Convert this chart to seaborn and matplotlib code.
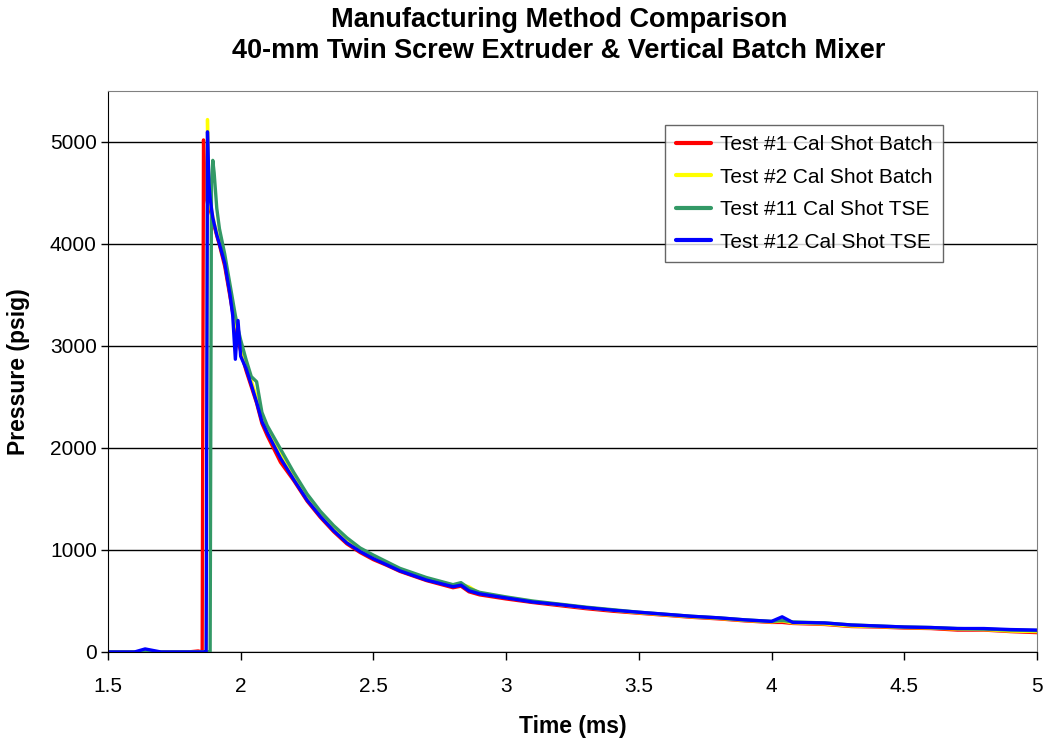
import seaborn as sns
import pandas as pd
import numpy as np
import matplotlib.pyplot as plt

#%% data

series_names = ["Test #1 Cal Shot Batch", "Test #2 Cal Shot Batch",
                "Test #11 Cal Shot TSE", "Test #12 Cal Shot TSE"]
palette = ["#FF0000", "#FFFF00", "#339966", "#0000FF"]

time_ms = [1.50, 1.60, 1.64, 1.70, 1.80, 1.84, 1.855, 1.86, 1.865, 1.87,
           1.875, 1.88, 1.885, 1.89, 1.895, 1.90, 1.91, 1.92, 1.94, 1.96,
           1.97, 1.98, 1.99, 2.00, 2.02, 2.04, 2.06, 2.08, 2.10, 2.15,
           2.20, 2.25, 2.30, 2.35, 2.40, 2.45, 2.50, 2.55, 2.60, 2.70,
           2.80, 2.83, 2.86, 2.90, 3.00, 3.10, 3.20, 3.30, 3.40, 3.50,
           3.60, 3.70, 3.80, 3.90, 4.00, 4.04, 4.08, 4.20, 4.30, 4.40,
           4.50, 4.60, 4.70, 4.80, 4.90, 5.00]

test1_batch = [0, 0, 0, 0, 0, 10, 0, 5020, 4600, 4450,
               4400, 4370, 4330, 4290, 4240, 4180, 4080, 3990, 3780, 3480,
               3330, 3190, 3060, 2950, 2760, 2600, 2440, 2240, 2120, 1860,
               1680, 1480, 1320, 1180, 1060, 975, 905, 850, 790, 700,
               630, 645, 590, 560, 520, 485, 455, 425, 400, 380,
               360, 340, 325, 305, 290, 290, 280, 270, 250, 245,
               235, 230, 215, 215, 200, 190]

test2_batch = [0, 0, 0, 0, 0, 0, 0, 0, 0, 0,
               5220, 4500, 4400, 4330, 4270, 4210, 4110, 4030, 3840, 3530,
               3400, 3250, 3120, 3010, 2820, 2660, 2490, 2300, 2170, 1950,
               1720, 1520, 1360, 1220, 1110, 1000, 935, 870, 810, 720,
               655, 660, 640, 575, 535, 495, 465, 435, 410, 385,
               365, 345, 330, 310, 295, 305, 285, 275, 255, 250,
               240, 235, 225, 220, 205, 200]

test11_tse = [0, 0, 0, 0, 0, 0, 0, 0, 0, 0,
              0, 0, 0, 4600, 4820, 4700, 4350, 4150, 3900, 3600,
              3450, 3300, 3170, 3060, 2870, 2700, 2650, 2350, 2220, 1990,
              1760, 1550, 1380, 1240, 1120, 1020, 950, 885, 820, 730,
              660, 680, 625, 585, 540, 500, 470, 440, 415, 390,
              370, 350, 335, 315, 300, 310, 295, 285, 265, 255,
              245, 240, 230, 225, 215, 210]

test12_tse = [0, 0, 30, 0, 0, 0, 0, 0, 0, 0,
              5100, 4600, 4450, 4350, 4260, 4200, 4090, 4000, 3810, 3500,
              3300, 2870, 3250, 2900, 2780, 2620, 2450, 2260, 2150, 1900,
              1690, 1490, 1330, 1190, 1070, 985, 915, 855, 795, 705,
              640, 655, 600, 570, 530, 490, 465, 435, 410, 390,
              370, 350, 335, 315, 300, 345, 290, 285, 265, 255,
              245, 240, 230, 230, 220, 215]

y_ticks = [0, 1000, 2000, 3000, 4000, 5000]
x_ticks = [1.5, 2, 2.5, 3, 3.5, 4, 4.5, 5]
x_ticklabels = ["1.5", "2", "2.5", "3", "3.5", "4", "4.5", "5"]

#%% long format

frames = []
for name, vals in zip(series_names, [test1_batch, test2_batch, test11_tse, test12_tse]):
    frames.append(pd.DataFrame({"Time": time_ms, "Pressure": vals, "Series": name}))
df = pd.concat(frames, ignore_index=True)

#%% plot

sns.set_style("ticks")
plt.rcParams['font.family'] = ['Liberation Sans', 'DejaVu Sans']
plt.rcParams['text.color'] = 'black'
plt.rcParams['axes.labelcolor'] = 'black'
plt.rcParams['xtick.color'] = 'black'
plt.rcParams['ytick.color'] = 'black'

fig = plt.figure(figsize=(10.45, 7.42), dpi=100)
ax = fig.add_axes([0.1033, 0.1213, 0.8890, 0.7561])

sns.lineplot(data=df, x="Time", y="Pressure", hue="Series", hue_order=series_names,
             palette=palette, estimator=None, sort=False, linewidth=2.4, ax=ax)

ax.set_xlim(1.5, 5)
ax.set_ylim(0, 5500)
ax.set_xticks(x_ticks)
ax.set_xticklabels(x_ticklabels)
ax.set_yticks(y_ticks)
ax.yaxis.grid(True, color="black", linewidth=1)
ax.set_axisbelow(True)
ax.tick_params(axis="x", labelsize=15, direction="out", length=6, width=1, pad=12)
ax.tick_params(axis="y", labelsize=15, direction="out", length=5, width=1, pad=3)

for side in ["left", "bottom"]:
    ax.spines[side].set_color("black")
for side in ["top", "right"]:
    ax.spines[side].set_color("#808080")

ax.set_xlabel("Time (ms)", fontsize=16.5, fontweight="bold")
ax.set_ylabel("Pressure (psig)", fontsize=16.5, fontweight="bold")
ax.xaxis.set_label_coords(0.5, -0.112)
ax.yaxis.set_label_coords(-0.084, 0.5)
fig.suptitle("Manufacturing Method Comparison\n40-mm Twin Screw Extruder & Vertical Batch Mixer",
             x=0.535, y=0.99, fontsize=19.5, fontweight="bold", linespacing=1.25)

handles, labels = ax.get_legend_handles_labels()
leg = ax.legend(handles, labels, loc="upper left", bbox_to_anchor=(0.6, 0.94),
                borderaxespad=0, fontsize=15, frameon=True, fancybox=False, edgecolor="#404040",
                handlelength=1.7, handletextpad=0.4, labelspacing=0.65, borderpad=0.5)
leg.get_frame().set_linewidth(1)
for line in leg.get_lines():
    line.set_linewidth(3)

fig.savefig("out.png", dpi=100)
